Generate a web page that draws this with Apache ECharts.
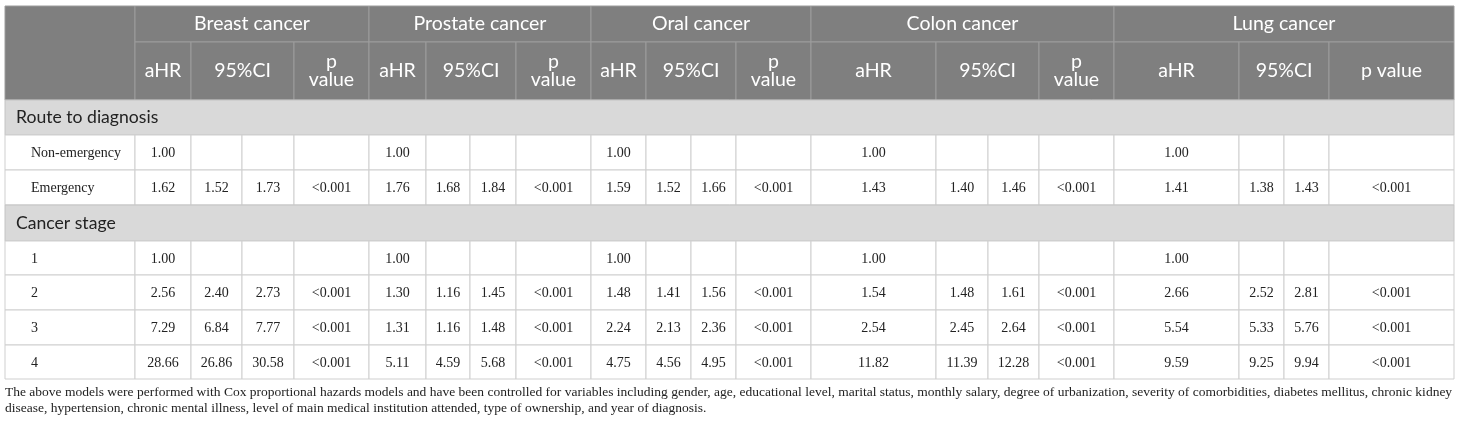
<!DOCTYPE html>
<html>
<head>
<meta charset="utf-8">
<script src="https://cdn.jsdelivr.net/npm/echarts@6/dist/echarts.min.js"></script>
<style>
  html, body { margin: 0; padding: 0; background: #fff; }
  #main { width: 1460px; height: 423px; }
</style>
</head>
<body>
<div id="main"></div>
<script>
// table content
var cancers = ['Breast cancer', 'Prostate cancer', 'Oral cancer', 'Colon cancer', 'Lung cancer'];
var subHeaders = ['aHR', '95%CI', 'p value'];
var sections = ['Route to diagnosis', 'Cancer stage'];
var routeLabels = ['Non-emergency', 'Emergency'];
var stageLabels = ['1', '2', '3', '4'];

// per cancer: [aHR, CI low, CI high, p]
var breastRoute = [['1.00', '', '', ''], ['1.62', '1.52', '1.73', '<0.001']];
var prostateRoute = [['1.00', '', '', ''], ['1.76', '1.68', '1.84', '<0.001']];
var oralRoute = [['1.00', '', '', ''], ['1.59', '1.52', '1.66', '<0.001']];
var colonRoute = [['1.00', '', '', ''], ['1.43', '1.40', '1.46', '<0.001']];
var lungRoute = [['1.00', '', '', ''], ['1.41', '1.38', '1.43', '<0.001']];

var breastStage = [['1.00', '', '', ''], ['2.56', '2.40', '2.73', '<0.001'], ['7.29', '6.84', '7.77', '<0.001'], ['28.66', '26.86', '30.58', '<0.001']];
var prostateStage = [['1.00', '', '', ''], ['1.30', '1.16', '1.45', '<0.001'], ['1.31', '1.16', '1.48', '<0.001'], ['5.11', '4.59', '5.68', '<0.001']];
var oralStage = [['1.00', '', '', ''], ['1.48', '1.41', '1.56', '<0.001'], ['2.24', '2.13', '2.36', '<0.001'], ['4.75', '4.56', '4.95', '<0.001']];
var colonStage = [['1.00', '', '', ''], ['1.54', '1.48', '1.61', '<0.001'], ['2.54', '2.45', '2.64', '<0.001'], ['11.82', '11.39', '12.28', '<0.001']];
var lungStage = [['1.00', '', '', ''], ['2.66', '2.52', '2.81', '<0.001'], ['5.54', '5.33', '5.76', '<0.001'], ['9.59', '9.25', '9.94', '<0.001']];

var footnote = 'The above models were performed with Cox proportional hazards models and have been controlled for variables including gender, age, educational level, marital status, monthly salary, degree of urbanization, severity of comorbidities, diabetes mellitus, chronic kidney\n' +
  'disease, hypertension, chronic mental illness, level of main medical institution attended, type of ownership, and year of diagnosis.';

// layout: column and row edges in table units
var colEdges = [0, 130, 186, 237, 289, 364, 421, 465, 511, 586, 641, 686, 731, 806, 931, 983, 1034, 1109, 1234, 1279, 1324, 1449];
var rowEdges = [0, 36, 94, 129, 164, 199, 235, 269, 304, 339, 373];
var SANS = 'Lato, "Open Sans", sans-serif';
var SERIF = '"Liberation Serif", "Times New Roman", serif';

var routeData = [breastRoute, prostateRoute, oralRoute, colonRoute, lungRoute];
var stageData = [breastStage, prostateStage, oralStage, colonStage, lungStage];

var cells = [];
function addCell(c0, c1, r0, r1, text, kind) {
  cells.push({ value: [c0, c1, r0, r1], text: text, kind: kind });
}

// header
addCell(0, 1, 0, 2, '', 'head');
cancers.forEach(function (name, k) {
  var base = 1 + k * 4;
  addCell(base, base + 4, 0, 1, name, 'head');
  addCell(base, base + 1, 1, 2, subHeaders[0], 'head');
  addCell(base + 1, base + 3, 1, 2, subHeaders[1], 'head');
  var pw = colEdges[base + 4] - colEdges[base + 3];
  addCell(base + 3, base + 4, 1, 2, pw > 100 ? subHeaders[2] : subHeaders[2].replace(' ', '\n'), 'head');
});

function addBlock(sectionName, labels, data, startRow) {
  addCell(0, 21, startRow, startRow + 1, sectionName, 'section');
  labels.forEach(function (lab, i) {
    var r = startRow + 1 + i;
    addCell(0, 1, r, r + 1, lab, 'label');
    data.forEach(function (rows, k) {
      rows[i].forEach(function (v, j) {
        var c = 1 + k * 4 + j;
        addCell(c, c + 1, r, r + 1, v, 'num');
      });
    });
  });
}
addBlock(sections[0], routeLabels, routeData, 2);
addBlock(sections[1], stageLabels, stageData, 5);

function renderItem(params, api) {
  var cell = cells[params.dataIndex];
  var p0 = api.coord([colEdges[api.value(0)], rowEdges[api.value(2)]]);
  var p1 = api.coord([colEdges[api.value(1)], rowEdges[api.value(3)]]);
  var x = p0[0], y = p0[1], w = p1[0] - p0[0], h = p1[1] - p0[1];
  var fill = '#fff', stroke = '#cfcfcf';
  var tStyle;
  if (cell.kind === 'head') {
    fill = '#7f7f7f';
    stroke = '#9c9c9c';
    tStyle = { x: x + w / 2, y: y + h / 2, align: 'center', verticalAlign: 'middle',
      fill: '#fff', fontFamily: SANS, fontSize: 19.5, lineHeight: 18 };
  } else if (cell.kind === 'section') {
    fill = '#d9d9d9';
    stroke = '#c4c4c4';
    tStyle = { x: x + 11, y: y + h / 2, align: 'left', verticalAlign: 'middle',
      fill: '#222', fontFamily: SANS, fontSize: 17.6 };
  } else if (cell.kind === 'label') {
    tStyle = { x: x + 26, y: y + h / 2 + 1, align: 'left', verticalAlign: 'middle',
      fill: '#222', fontFamily: SERIF, fontSize: 14 };
  } else {
    tStyle = { x: x + w / 2, y: y + h / 2 + 1, align: 'center', verticalAlign: 'middle',
      fill: '#222', fontFamily: SERIF, fontSize: 14 };
  }
  tStyle.text = cell.text;
  return {
    type: 'group',
    children: [
      { type: 'rect', shape: { x: x, y: y, width: w, height: h },
        style: { fill: fill, stroke: stroke, lineWidth: 1 } },
      { type: 'text', style: tStyle }
    ]
  };
}

var chart = echarts.init(document.getElementById('main'), null, { renderer: 'canvas' });
chart.setOption({
  animation: false,
  title: {
    text: footnote,
    left: 5,
    top: 384,
    padding: 0,
    textStyle: { fontFamily: SERIF, fontSize: 13.5, fontWeight: 'normal', color: '#222', lineHeight: 16 }
  },
  grid: { left: 5, top: 6, width: 1449, height: 373 },
  xAxis: { type: 'value', min: 0, max: 1449, show: false },
  yAxis: { type: 'value', min: 0, max: 373, inverse: true, show: false },
  series: [{
    type: 'custom',
    renderItem: renderItem,
    data: cells,
    silent: true
  }]
});
</script>
</body>
</html>
